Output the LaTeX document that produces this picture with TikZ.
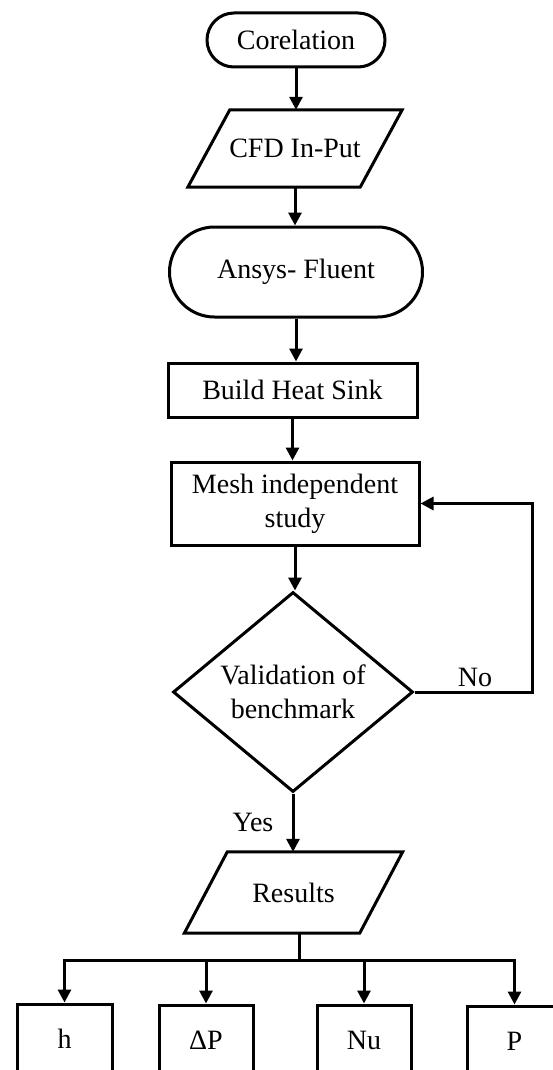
\documentclass[tikz,border=0pt]{standalone}
\usepackage{fontspec}
\setmainfont{Liberation Serif}
\usetikzlibrary{arrows.meta,shapes.geometric,calc}
\begin{document}
\begin{tikzpicture}[x=1pt,y=-1pt,
  every node/.style={font=\fontsize{28}{34}\selectfont, inner sep=0pt, align=center},
  ln/.style={line width=3pt},
  arr/.style={ln, -{Triangle[length=13pt,width=13pt]}},
  term/.style={draw, ln, rectangle, rounded corners=#1},
  boxn/.style={draw, ln, rectangle},
  io/.style={rectangle, draw=none}
]
\useasboundingbox (0,0) rectangle (553,1070);
\clip (0,0) rectangle (553,1070);
% nodes
\node[term=27pt, minimum width=178pt, minimum height=54pt] (cor) at (296,40) {Corelation};
\node[io, minimum width=172pt, minimum height=77pt] (cfd) at (295,148.5) {CFD In-Put};
\draw[ln, line join=miter] ($(cfd.north west)+(21,0)$) -- ($(cfd.north east)+(21,0)$) -- ($(cfd.south east)+(-21,0)$) -- ($(cfd.south west)+(-21,0)$) -- cycle;
\node[term=45pt, minimum width=253pt, minimum height=90pt] (ans) at (296,272) {Ansys- Fluent};
\node[boxn, minimum width=249pt, minimum height=54pt] (bhs) at (292.5,390) {Build Heat Sink};
\node[boxn, minimum width=248pt, minimum height=83pt] (mesh) at (295,503.5) {Mesh independent\\study};
\node[diamond, draw, ln, aspect=1.2, minimum width=240pt, minimum height=200pt] (val) at (293,692) {Validation of\\benchmark};
\node[io, minimum width=175pt, minimum height=81pt] (res) at (293.5,892.5) {Results};
\draw[ln, line join=miter] ($(res.north west)+(21.5,0)$) -- ($(res.north east)+(21.5,0)$) -- ($(res.south east)+(-21.5,0)$) -- ($(res.south west)+(-21.5,0)$) -- cycle;
\node[boxn, minimum width=95pt, minimum height=70pt] (h) at (64.5,1039) {h};
\node[boxn, minimum width=94pt, minimum height=70pt] (dp) at (206,1040) {ΔP};
\node[boxn, minimum width=94pt, minimum height=70pt] (nu) at (364,1040) {Nu};
\node[boxn, minimum width=95pt, minimum height=70pt] (p) at (514.5,1041) {P};
\node (no) at (475,677) {No};
\node (yes) at (253,822) {Yes};
% connectors
\draw[arr] (cor.south) -- (cor.south |- cfd.north);
\draw[arr] (cfd.south) -- (cfd.south |- ans.north);
\draw[arr] (ans.south) -- (ans.south |- bhs.north);
\draw[arr] (bhs.south) -- (bhs.south |- mesh.north);
\draw[arr] (mesh.south) -- (mesh.south |- val.north);
\coordinate (loop) at (532,692);
\draw[arr] (val.east) -- (val.east -| loop) |- (mesh.east);
\draw[arr] (val.south) -- (val.south |- res.north);
\coordinate (split) at (299,960);
\draw[ln] (split |- res.south) -- (split);
\draw[ln, line cap=rect] (split -| h.north) -- (split -| p.north);
\draw[arr] (split -| h.north) -- (h.north);
\draw[arr] (split -| dp.north) -- (dp.north);
\draw[arr] (split -| nu.north) -- (nu.north);
\draw[arr] (split -| p.north) -- (p.north);
\end{tikzpicture}
\end{document}
